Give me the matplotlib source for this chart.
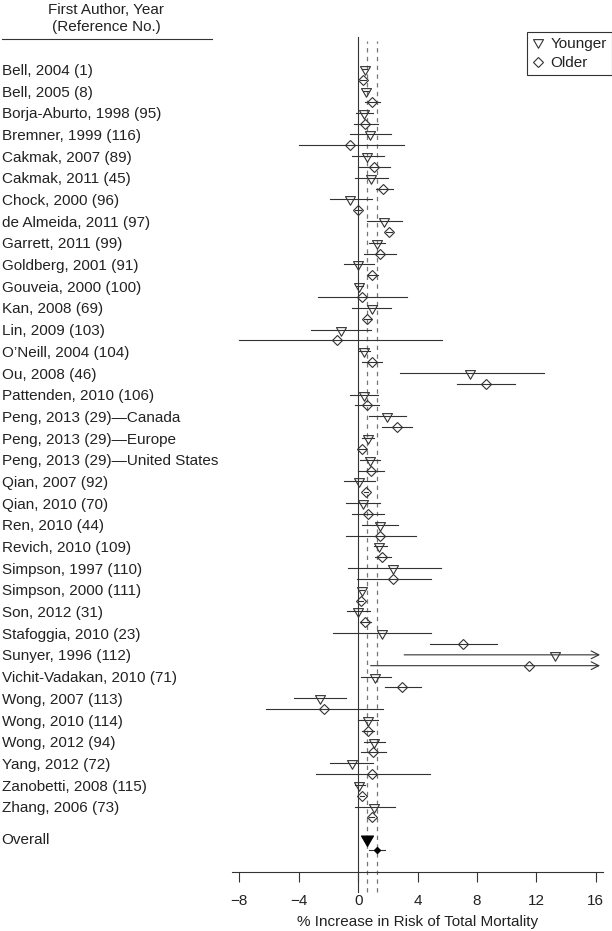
import numpy as np
import matplotlib
matplotlib.use("Agg")
import matplotlib.pyplot as plt
from matplotlib.lines import Line2D
from matplotlib.path import Path
import matplotlib.transforms as mtransforms

plt.rcParams['font.family'] = ['Liberation Sans', 'DejaVu Sans']

studies = [
    "Bell, 2004 (1)", "Bell, 2005 (8)", "Borja-Aburto, 1998 (95)", "Bremner, 1999 (116)",
    "Cakmak, 2007 (89)", "Cakmak, 2011 (45)", "Chock, 2000 (96)", "de Almeida, 2011 (97)",
    "Garrett, 2011 (99)", "Goldberg, 2001 (91)", "Gouveia, 2000 (100)", "Kan, 2008 (69)",
    "Lin, 2009 (103)", "O\u2019Neill, 2004 (104)", "Ou, 2008 (46)", "Pattenden, 2010 (106)",
    "Peng, 2013 (29)\u2014Canada", "Peng, 2013 (29)\u2014Europe", "Peng, 2013 (29)\u2014United States",
    "Qian, 2007 (92)", "Qian, 2010 (70)", "Ren, 2010 (44)", "Revich, 2010 (109)",
    "Simpson, 1997 (110)", "Simpson, 2000 (111)", "Son, 2012 (31)", "Stafoggia, 2010 (23)",
    "Sunyer, 1996 (112)", "Vichit-Vadakan, 2010 (71)", "Wong, 2007 (113)", "Wong, 2010 (114)",
    "Wong, 2012 (94)", "Yang, 2012 (72)", "Zanobetti, 2008 (115)", "Zhang, 2006 (73)",
]

young_est = [0.44, 0.55, 0.37, 0.82, 0.62, 0.89, -0.53, 1.74, 1.25, 0.01, 0.06, 0.93, -1.18,
             0.39, 7.52, 0.37, 1.95, 0.64, 0.80, 0.06, 0.33, 1.47, 1.41, 2.37, 0.26, 0.01,
             1.59, 13.26, 1.16, -2.60, 0.66, 1.09, -0.44, 0.06, 1.07]
young_lo = [0.25, 0.35, -0.17, -0.53, -0.44, -0.21, -1.92, 0.62, 0.73, -0.98, -0.15, -0.39, -3.18,
            0.05, 2.80, -0.53, 0.73, 0.28, 0.10, -0.98, -0.80, 0.26, 1.05, -0.71, 0.10, -0.75,
            -1.68, 3.10, 0.21, -4.35, 0.00, 0.39, -1.88, -0.24, -0.24]
young_hi = [0.63, 0.75, 1.00, 2.24, 1.72, 2.04, 0.93, 2.94, 1.79, 1.05, 0.30, 2.24, 0.84,
            0.78, 12.52, 1.34, 3.21, 1.05, 1.50, 1.11, 1.50, 2.69, 1.95, 5.57, 0.42, 0.78,
            4.94, np.inf, 2.19, -0.84, 1.34, 1.81, 1.00, 0.44, 2.46]

old_est = [0.33, 0.93, 0.48, -0.53, 1.07, 1.68, 0.00, 2.08, 1.47, 0.96, 0.26, 0.62, -1.45,
           0.91, 8.60, 0.57, 2.60, 0.28, 0.87, 0.53, 0.64, 1.50, 1.63, 2.35, 0.17, 0.48,
           7.07, 11.53, 2.98, -2.33, 0.69, 1.02, 0.91, 0.26, 0.91]
old_lo = [0.15, 0.48, -0.28, -4.00, 0.01, 1.23, -0.20, 1.85, 0.39, 0.60, -2.71, 0.40, -8.00,
          0.26, 6.69, -0.24, 1.61, 0.05, 0.00, 0.40, -0.44, -0.84, 1.11, -0.06, 0.00, 0.10,
          4.83, 0.84, 1.79, -6.20, 0.28, 0.21, -2.87, 0.10, 0.70]
old_hi = [0.50, 1.45, 1.34, 3.07, 2.17, 2.35, 0.20, 2.30, 2.53, 1.34, 3.32, 0.85, 5.66,
          1.61, 10.56, 1.41, 3.66, 0.50, 1.72, 0.65, 1.72, 3.88, 2.19, 4.89, 0.35, 0.89,
          9.37, np.inf, 4.22, 1.70, 1.07, 1.86, 4.87, 0.42, 1.10]

overall_label = "Overall"
overall_young = (0.57, 0.45, 0.70)
overall_old = (1.25, 0.73, 1.79)

xticks = [-8, -4, 0, 4, 8, 12, 16]
legend_labels = ["Younger", "Older"]

LC = '#333333'
W, H = 612, 931
fig = plt.figure(figsize=(W / 100, H / 100), dpi=100)
ax_top, ax_bot, ax_l, ax_r = 37, 871.7, 232, 603
ax = fig.add_axes([ax_l / W, 1 - ax_bot / H, (ax_r - ax_l) / W, (ax_bot - ax_top) / H])
ax.set_xlim(-8.5, 16.5)
ax.set_ylim(74.0, -2.98)
ARROW_END = 16.3

for s in ['top', 'left', 'right']:
    ax.spines[s].set_visible(False)
ax.spines['bottom'].set_color(LC)
ax.spines['bottom'].set_linewidth(0.8)
ax.set_yticks([])
ax.set_xticks(xticks)
ax.set_xticklabels([f"{t}".replace('-', '\u2212') for t in xticks])
ax.tick_params(axis='x', direction='out', length=7.2, width=0.8, color=LC,
               labelsize=11, pad=9, labelcolor='#222222')

xt = ax.get_xaxis_transform()
ext = -(892 - ax_bot) / (ax_bot - ax_top)
ax.plot([0, 0], [ext, 1], transform=xt, clip_on=False, color=LC, lw=0.8, zorder=1)
dtop = (ax_bot - 41) / (ax_bot - ax_top)
for v in (overall_young[0], overall_old[0]):
    ax.plot([v, v], [ext, dtop], transform=xt, clip_on=False, color='#777777',
            lw=0.9, ls=(0, (3.5, 3.5)), zorder=1)

tri = Path([(0, -1), (-0.866, 0.5), (0.866, 0.5), (0, -1)], closed=True)
MS_T, MS_D = 8.3, 5.1

def draw(y, est, lo, hi, marker, ms, filled=False):
    if np.isinf(hi):
        ax.annotate('', xy=(ARROW_END, y), xytext=(lo, y),
                    arrowprops=dict(arrowstyle='->,head_length=0.55,head_width=0.28',
                                    color=LC, lw=0.8, shrinkA=0, shrinkB=0))
    else:
        ax.plot([lo, hi], [y, y], color=LC, lw=0.8, zorder=2)
    ax.plot([est], [y], marker=marker, ms=ms, ls='none', mec=LC if not filled else 'black',
            mfc='black' if filled else 'none', mew=0.8, zorder=3)

for i in range(len(studies)):
    draw(2 * i, young_est[i], young_lo[i], young_hi[i], tri, MS_T)
    draw(2 * i + 1, old_est[i], old_lo[i], old_hi[i], 'D', MS_D)

yo = 2 * len(studies) + 1
draw(yo, *overall_young, tri, 10, filled=True)
draw(yo + 1, *overall_old, 'D', 3.2, filled=True)

bt = mtransforms.blended_transform_factory(fig.transFigure, ax.transData)
for i, s in enumerate(studies):
    ax.text(1.5 / W, 2 * i + 0.15, s, transform=bt, ha='left', va='center',
            fontsize=11, color='#222222')
ax.text(1.5 / W, yo + 0.1, overall_label, transform=bt, ha='left', va='center',
        fontsize=11, color='#222222')

fig.text(106 / W, 1 - 9.5 / H, "First Author, Year", ha='center', va='center',
         fontsize=11, color='#222222')
fig.text(106 / W, 1 - 27 / H, "(Reference No.)", ha='center', va='center',
         fontsize=11, color='#222222')
fig.add_artist(Line2D([2 / W, 212 / W], [1 - 39.3 / H] * 2, transform=fig.transFigure,
                      color=LC, lw=0.8))

fig.text((ax_l + ax_r) / 2 / W, 1 - 922 / H, "% Increase in Risk of Total Mortality",
         ha='center', va='center', fontsize=11, color='#222222')

handles = [Line2D([], [], marker=tri, ms=MS_T, ls='none', mfc='none', mec=LC, mew=0.8),
           Line2D([], [], marker='D', ms=MS_D, ls='none', mfc='none', mec=LC, mew=0.8)]
leg = ax.legend(handles, legend_labels, loc='upper right',
                bbox_to_anchor=(611.5 / W, 1 - 32 / H), bbox_transform=fig.transFigure,
                fontsize=11, frameon=True, fancybox=False, framealpha=1,
                edgecolor=LC, borderpad=0.3, labelspacing=0.35, handlelength=0.9,
                handletextpad=0.35, borderaxespad=0)
leg.get_frame().set_linewidth(0.8)
for t in leg.get_texts():
    t.set_color('#222222')

fig.savefig('out.png', dpi=100)
